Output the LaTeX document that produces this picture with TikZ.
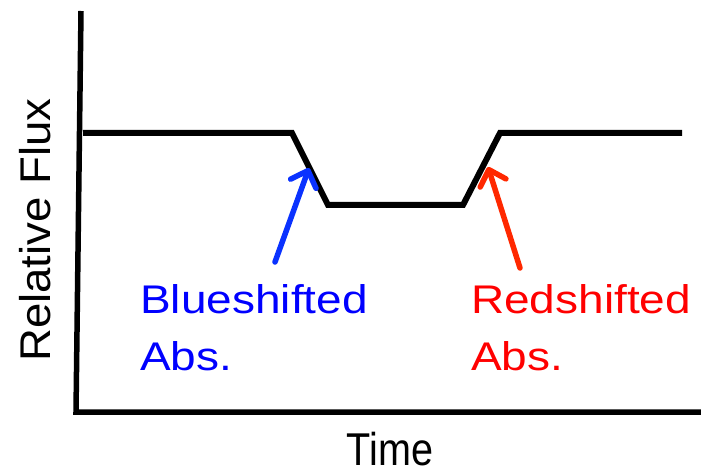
\documentclass[tikz,border=0pt]{standalone}
\usepackage{fontspec}
\setmainfont{Liberation Sans}
\newfontfamily\labfont[FakeStretch=1.15]{Liberation Sans}
\newfontfamily\yfont[FakeStretch=1.06]{Liberation Sans}
\newfontfamily\tfont[FakeStretch=0.86]{Liberation Sans}
\usetikzlibrary{arrows.meta}
\definecolor{bluetxt}{RGB}{0,0,255}
\definecolor{bluearr}{RGB}{10,50,255}
\definecolor{redtxt}{RGB}{255,0,0}
\definecolor{redarr}{RGB}{255,40,0}
\tikzset{
  axisline/.style={line width=5.5pt, line cap=butt},
  fluxline/.style={line width=6pt, line join=miter},
  pointer/.style={line width=5.5pt, line cap=round, -{Straight Barb[length=14pt,width=27pt,round]}},
  lab/.style={inner sep=0pt, anchor=base west, align=left, font=\labfont\fontsize{40}{57}\selectfont}
}
\begin{document}
\begin{tikzpicture}[x=1pt,y=-1pt]
\useasboundingbox (0,0) rectangle (701,473);
% axes
\coordinate (ytop) at (81,11);
\coordinate (orig) at (76,412);
\coordinate (xend) at (701,412);
\draw[axisline] (ytop) -- (orig) -- (xend);
% flux curve
\coordinate (f0) at (83,133);
\coordinate (f1) at (292,133);
\coordinate (f2) at (328,205);
\coordinate (f3) at (463,205);
\coordinate (f4) at (500,133);
\coordinate (f5) at (682,133);
\draw[fluxline] (f0) -- (f1) -- (f2) -- (f3) -- (f4) -- (f5);
% labels
\node[lab, text=bluetxt] (blue) at (140,370) {Blueshifted\\Abs.};
\node[lab, text=redtxt] (red) at (471,370) {Redshifted\\Abs.};
% arrows
\coordinate (btail) at (275,262);
\coordinate (btip) at (309,168);
\coordinate (rtail) at (520,268);
\coordinate (rtip) at (488,167);
\draw[pointer, bluearr] (btail) -- (btip);
\draw[pointer, redarr] (rtail) -- (rtip);
% axis titles
\node[inner sep=0pt, anchor=base, rotate=90, font=\yfont\fontsize{43}{50}\selectfont] (ylab) at (50,230) {Relative Flux};
\node[inner sep=0pt, anchor=base, text depth=0pt, font=\tfont\fontsize{46}{52}\selectfont] (xlab) at (390,465) {Time};
\end{tikzpicture}
\end{document}
